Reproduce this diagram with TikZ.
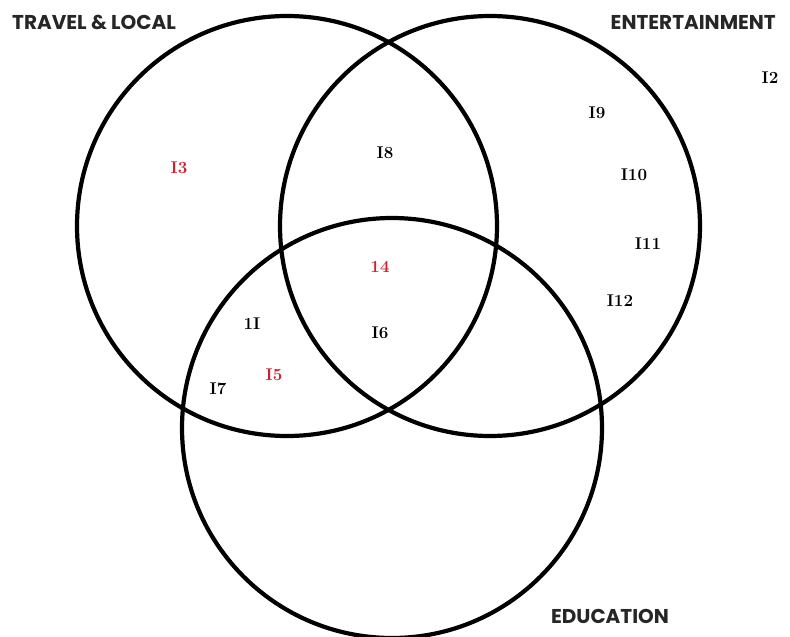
\documentclass[tikz,border=0pt]{standalone}
\usepackage{fontspec}
\newfontfamily\labfont{Poppins}
\definecolor{itemred}{RGB}{205,32,44}
\begin{document}
\begin{tikzpicture}[x=1pt,y=-1pt,
  ring/.style={draw=black,line width=4.2pt},
  setlab/.style={font=\labfont\bfseries\fontsize{20}{20}\selectfont,inner sep=0pt,text=black!85},
  item/.style={font=\bfseries\fontsize{17}{17}\selectfont,inner sep=0pt,text=black},
  hot/.style={item,text=itemred}]
\useasboundingbox (0,0) rectangle (790,637);
\begin{scope}
\clip (0,0) rectangle (790,637);
\node[ring,circle,minimum size=420pt,inner sep=0pt] (travel) at (287,226) {};
\node[ring,circle,minimum size=420pt,inner sep=0pt] (ent) at (490,226) {};
\node[ring,circle,minimum size=420pt,inner sep=0pt] (edu) at (392,428) {};
\end{scope}
\node[setlab,anchor=west] (lt) at (12,22) {TRAVEL \& LOCAL};
\node[setlab,anchor=east] (le) at (776,22) {ENTERTAINMENT};
\node[setlab] (ld) at (610,616) {EDUCATION};
\node[item] (i2) at (770,78) {I2};
\node[hot] (i3) at (179,168) {I3};
\node[item] (i8) at (385,153) {I8};
\node[hot] (i14) at (380,267) {14};
\node[item] (i1) at (252,324) {1I};
\node[item] (i6) at (380,333) {I6};
\node[hot] (i5) at (274,375) {I5};
\node[item] (i7) at (218,389) {I7};
\node[item] (i9) at (597,113) {I9};
\node[item] (i10) at (634,175) {I10};
\node[item] (i11) at (648,244) {I11};
\node[item] (i12) at (620,301) {I12};
\end{tikzpicture}
\end{document}
